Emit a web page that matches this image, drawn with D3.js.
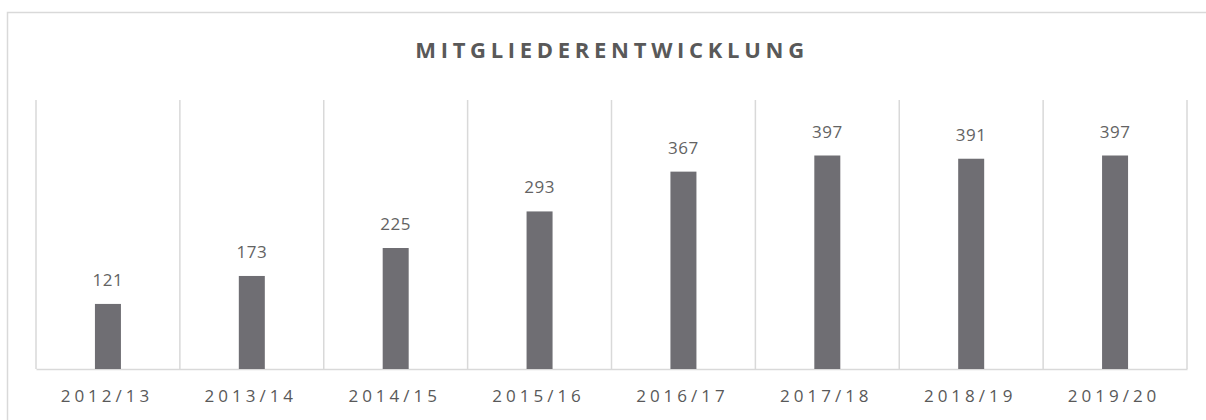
<!DOCTYPE html>
<html>
<head>
<meta charset="utf-8">
<script src="https://cdn.jsdelivr.net/npm/d3@7"></script>
<style>
  body { margin: 0; background: #fff; }
  text { font-family: "Open Sans", sans-serif; }
</style>
</head>
<body>
<div class="chart"></div>
<script>
// Mitgliederentwicklung per season
var seasons = ["2012/13", "2013/14", "2014/15", "2015/16", "2016/17", "2017/18", "2018/19", "2019/20"];
var members = [121, 173, 225, 293, 367, 397, 391, 397];

var width = 1206;
var height = 420;

let margin = {
  top: 100,
  right: 19,
  bottom: 51,
  left: 36
}

var svg = d3.select(".chart")
  .append("svg")
  .attr("width", width)
  .attr("height", height);

// outer frame (runs off to the right and bottom)
svg.append("rect")
  .attr("x", 7.5)
  .attr("y", 12.5)
  .attr("width", width + 20)
  .attr("height", height + 20)
  .style("fill", "none")
  .style("stroke", "#d9d9d9")
  .style("stroke-width", 1.5);

var xScale = d3.scaleBand()
  .domain(seasons)
  .range([margin.left, width - margin.right])
  .paddingInner(0);

var yScale = d3.scaleLinear()
  .domain([0, 450])
  .range([height - margin.bottom, 127]);

var baseY = height - margin.bottom;

// vertical separators between categories
var edges = seasons.map(d => xScale(d)).concat([xScale.range()[1]]);
svg.selectAll(".sep")
  .data(edges)
  .enter().append("line")
  .attr("class", "sep")
  .attr("x1", d => d)
  .attr("x2", d => d)
  .attr("y1", margin.top)
  .attr("y2", baseY)
  .style("stroke", "#d9d9d9")
  .style("stroke-width", 1.5);

// x axis line
var xAxis = d3.axisBottom(xScale).tickSize(0).tickPadding(21);
var gx = svg.append("g")
  .attr("transform", `translate(0,${baseY})`)
  .call(xAxis);
gx.select(".domain").style("stroke", "#d9d9d9").style("stroke-width", 1.5);
gx.selectAll("text")
  .attr("dx", "-1px")
  .style("font-size", "17px")
  .style("fill", "#595959")
  .style("letter-spacing", "4px");

var barW = 26;

svg.selectAll(".bar")
  .data(members)
  .enter().append("rect")
  .attr("class", "bar")
  .attr("x", (d, i) => xScale(seasons[i]) + xScale.bandwidth() / 2 - barW / 2)
  .attr("y", d => yScale(d))
  .attr("width", barW)
  .attr("height", d => baseY - yScale(d))
  .style("fill", "#6f6e73");

// value labels
svg.selectAll(".val")
  .data(members)
  .enter().append("text")
  .attr("class", "val")
  .attr("x", (d, i) => xScale(seasons[i]) + xScale.bandwidth() / 2)
  .attr("y", d => yScale(d) - 18)
  .attr("text-anchor", "middle")
  .style("font-size", "17px")
  .style("letter-spacing", "0.5px")
  .style("fill", "#636363")
  .text(d => d);

// chart title
svg.append("text")
  .attr("x", 612)
  .attr("y", 58)
  .attr("text-anchor", "middle")
  .style("font-size", "22px")
  .style("font-weight", "bold")
  .style("letter-spacing", "4.7px")
  .style("fill", "#595959")
  .text("MITGLIEDERENTWICKLUNG");
</script>
</body>
</html>
